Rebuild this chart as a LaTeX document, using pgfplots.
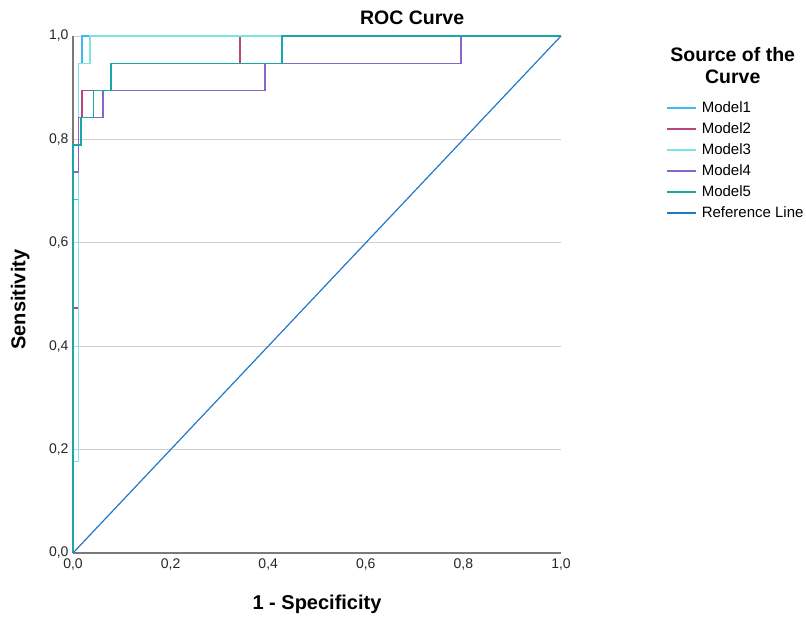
\documentclass[border=0pt]{standalone}
\usepackage{fontspec}
\setmainfont{Liberation Sans}
\usepackage{pgfplots}
\pgfplotsset{compat=1.18}
\definecolor{mA}{HTML}{3FB8F5}
\definecolor{mB}{HTML}{B4487A}
\definecolor{mC}{HTML}{7EE3E3}
\definecolor{mD}{HTML}{8866C8}
\definecolor{mE}{HTML}{1AA7A7}
\definecolor{mR}{HTML}{2278C8}
\definecolor{gridc}{HTML}{CFCFCF}
\definecolor{axc}{HTML}{7A7A7A}
\begin{document}
\begin{tikzpicture}
\useasboundingbox (-73pt,-64pt) rectangle (733pt,553pt);
\begin{axis}[
  at={(0pt,0pt)}, anchor=south west,
  scale only axis, width=488pt, height=517pt,
  xmin=0, xmax=1, ymin=0, ymax=1,
  axis x line=bottom, axis y line=left,
  axis line style={axc, line width=1.2pt, -},
  xtick={0,0.2,0.4,0.6,0.8,1}, ytick={0,0.2,0.4,0.6,0.8,1},
  xticklabels={{0,0},{0,2},{0,4},{0,6},{0,8},{1,0}},
  yticklabels={{0,0},{0,2},{0,4},{0,6},{0,8},{1,0}},
  major tick length=0pt,
  tick label style={font=\fontsize{14}{16}\selectfont, text=black!85},
  xticklabel style={yshift=-2pt},
  yticklabel style={xshift=-1pt},
  ymajorgrids, grid style={gridc, line width=0.9pt},
  clip=false,
  legend cell align=left,
  legend style={at={(rel axis cs:1,1)}, anchor=north west, xshift=105pt, yshift=-65pt,
    draw=none, fill=none, font=\fontsize{15}{17}\selectfont, row sep=7pt, inner sep=0pt,
    nodes={inner sep=0pt, text height=11pt, text depth=3pt, anchor=west},
    /tikz/every odd column/.append style={column sep=5pt}},
  legend image code/.code={\draw[#1, line width=1.6pt] (0pt,0pt) -- (29pt,0pt);},
  every axis plot/.append style={line width=1.5pt, line join=miter},
]
\addplot[mA] coordinates {(0,0) (0,0.684) (0.011,0.684) (0.011,0.947) (0.018,0.947) (0.018,1) (1,1)};
\addlegendentry{Model1}
\addplot[mB] coordinates {(0,0) (0,0.474) (0.011,0.474) (0.011,0.842) (0.018,0.842) (0.018,0.895) (0.078,0.895) (0.078,0.947) (0.342,0.947) (0.342,1) (1,1)};
\addlegendentry{Model2}
\addplot[mC] coordinates {(0,0) (0,0.177) (0.011,0.177) (0.011,0.947) (0.035,0.947) (0.035,1) (1,1)};
\addlegendentry{Model3}
\addplot[mD] coordinates {(0,0) (0,0.737) (0.011,0.737) (0.011,0.842) (0.061,0.842) (0.061,0.895) (0.393,0.895) (0.393,0.947) (0.795,0.947) (0.795,1) (1,1)};
\addlegendentry{Model4}
\addplot[mE] coordinates {(0,0) (0,0.789) (0.016,0.789) (0.016,0.842) (0.042,0.842) (0.042,0.895) (0.078,0.895) (0.078,0.947) (0.428,0.947) (0.428,1) (1,1)};
\addlegendentry{Model5}
\addplot[mR, line width=1.2pt] coordinates {(0,0) (1,1)};
\addlegendentry{Reference Line}
\node[font=\bfseries\fontsize{19.5}{22}\selectfont] at (rel axis cs:0.695,1.035) {ROC Curve};
\node[font=\bfseries\fontsize{20}{22}\selectfont, rotate=90] at (rel axis cs:-0.108,0.49) {Sensitivity};
\node[font=\bfseries\fontsize{20}{22}\selectfont] at (rel axis cs:0.5,-0.1) {1 - Specificity};
\node[font=\bfseries\fontsize{19.5}{22}\selectfont, align=center] at (rel axis cs:1.352,0.942) {Source of the\\Curve};
\end{axis}
\end{tikzpicture}
\end{document}
